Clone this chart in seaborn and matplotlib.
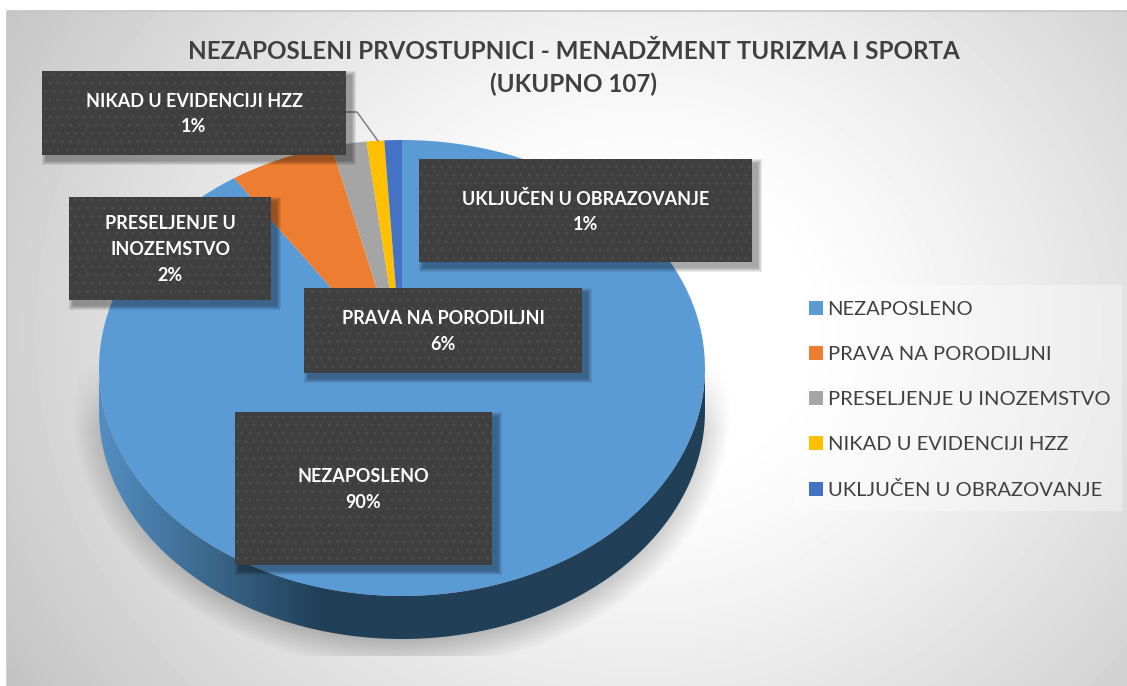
import numpy as np
import seaborn as sns
import matplotlib.pyplot as plt
from matplotlib.patches import Rectangle, PathPatch
from matplotlib.path import Path

categories = ["NEZAPOSLENO", "PRAVA NA PORODILJNI", "PRESELJENJE U INOZEMSTVO",
              "NIKAD U EVIDENCIJI HZZ", "UKLJUČEN U OBRAZOVANJE"]
counts = [97, 6, 2, 1, 1]
percent_labels = ["90%", "6%", "2%", "1%", "1%"]
box_names = ["NEZAPOSLENO", "PRAVA NA PORODILJNI", "PRESELJENJE U\nINOZEMSTVO",
             "NIKAD U EVIDENCIJI HZZ", "UKLJUČEN U OBRAZOVANJE"]
title = "NEZAPOSLENI PRVOSTUPNICI - MENADŽMENT TURIZMA I SPORTA\n(UKUPNO 107)"
colors = sns.color_palette(["#5b9bd5", "#ed7d31", "#a5a5a5", "#ffc000", "#4472c4"])

W, H = 1127, 686
sns.set_theme(style="white")
plt.rcParams['font.family'] = ['Lato', 'DejaVu Sans']
plt.rcParams['hatch.linewidth'] = 0.6

# box positions in pixels: x0, y0, x1, y1
boxes = [(235, 412, 492, 565), (304, 288, 582, 373), (69, 197, 271, 300),
         (42, 71, 346, 155), (419, 159, 752, 262)]

# pie ellipse in pixels
cx, cy, rx, ry, depth = 402, 368, 303, 228, 43

fig = plt.figure(figsize=(W / 100, H / 100), dpi=100)


def pixel_axes(z):
    a = fig.add_axes([0, 0, 1, 1], zorder=z)
    a.set_xlim(0, W)
    a.set_ylim(H, 0)
    a.axis("off")
    return a


ax_bg = pixel_axes(0)
xx, yy = np.meshgrid(np.arange(W) + 0.5, np.arange(H) + 0.5)

# background gradient
dist = np.sqrt(((xx - 640) / 640) ** 2 + ((yy - 330) / 560) ** 2)
shade = np.clip(1.0 - 0.26 * np.clip(dist - 0.25, 0, None) ** 1.2, 0.76, 1.0)
ax_bg.imshow(shade, extent=(0, W, H, 0), cmap="gray", vmin=0, vmax=1, aspect="auto", zorder=0)
ax_bg.add_patch(Rectangle((0, 0), W, 11, fc="white", ec="none", zorder=1))
ax_bg.add_patch(Rectangle((0, 0), 7, H, fc="white", ec="none", zorder=1))
ax_bg.plot([7, 7, W], [H, 11, 11], color="#c4c4c4", lw=1.2, zorder=2)

# soft shadow under the pie, fading in from the pie's middle
ell = np.sqrt(((xx - cx) / 330) ** 2 + ((yy - 408) / 262) ** 2)
alpha = 0.30 * np.clip((1.0 - ell) / 0.15, 0, 1) * np.clip((yy - 362) / 70, 0, 1)
alpha[yy > 656] = 0
shadow = np.zeros((H, W, 4))
shadow[..., 3] = alpha
ax_bg.imshow(shadow, extent=(0, W, H, 0), aspect="auto", zorder=3)

# side wall of the pie
t = np.linspace(0, np.pi, 200)
ex, ey = cx + rx * np.cos(t), cy + ry * np.sin(t)
wall_xy = np.vstack([np.c_[ex, ey], np.c_[ex[::-1], ey[::-1] + depth]])
wall = np.zeros((H, W, 3))
wall_left, wall_right = (0.33, 0.56, 0.76), (0.13, 0.25, 0.34)
for i in range(3):
    wall[..., i] = np.interp(xx, [99, 320], [wall_left[i], wall_right[i]])
wall_img = ax_bg.imshow(wall, extent=(0, W, H, 0), aspect="auto", zorder=4)
wall_patch = PathPatch(Path(wall_xy), fc="none", ec="none", transform=ax_bg.transData)
ax_bg.add_patch(wall_patch)
wall_img.set_clip_path(wall_patch)
ax_bg.set_xlim(0, W)
ax_bg.set_ylim(H, 0)

# pie top face
ax_pie = fig.add_axes([(cx - rx) / W, 1 - (cy + ry) / H, 2 * rx / W, 2 * ry / H], zorder=1)
wedges, _ = ax_pie.pie(counts, colors=colors, startangle=90, counterclock=False, radius=1,
                       wedgeprops={"linewidth": 0, "edgecolor": "none"})
ax_pie.set_aspect("auto")
ax_pie.set_xlim(-1, 1)
ax_pie.set_ylim(-1, 1)

# labels and legend
ax_top = pixel_axes(2)
ax_top.patch.set_alpha(0)
ax_top.text(573.5, 68, title, ha="center", va="center", fontsize=17.4, fontweight="bold",
            color="#404040", linespacing=1.5)

ax_top.plot([346, 357, 378], [112, 112, 141], color="#7f7f7f", lw=1.1, zorder=1)

for name, pct, (x0, y0, x1, y1) in zip(box_names, percent_labels, boxes):
    for k in range(5):
        grow = 5 - k
        ax_top.add_patch(Rectangle((x0 + 5 - grow, y0 + 5 - grow), x1 - x0 + 2 * grow, y1 - y0 + 2 * grow,
                                   fc="black", ec="none", alpha=0.08, zorder=2))
    ax_top.add_patch(Rectangle((x0, y0), x1 - x0, y1 - y0, fc="#3f3f3f", ec="#505050",
                               hatch="..", lw=0, zorder=3))
    ax_top.text((x0 + x1) / 2, (y0 + y1) / 2 + 1, name + "\n" + pct, ha="center", va="center",
                fontsize=13, fontweight="bold", color="white", linespacing=1.62, zorder=4)

ax_top.add_patch(Rectangle((795, 285), 327, 226, fc="white", ec="none", alpha=0.35, zorder=2))
leg = ax_top.legend(wedges, categories, loc="upper left", bbox_to_anchor=(805, 297),
                    bbox_transform=ax_top.transData, frameon=False, fontsize=14.5,
                    labelcolor="#404040", handlelength=0.7, handleheight=0.7,
                    handletextpad=0.22, labelspacing=1.39, borderpad=0.2, borderaxespad=0)
leg.set_zorder(5)

fig.savefig("out.png", dpi=100)
